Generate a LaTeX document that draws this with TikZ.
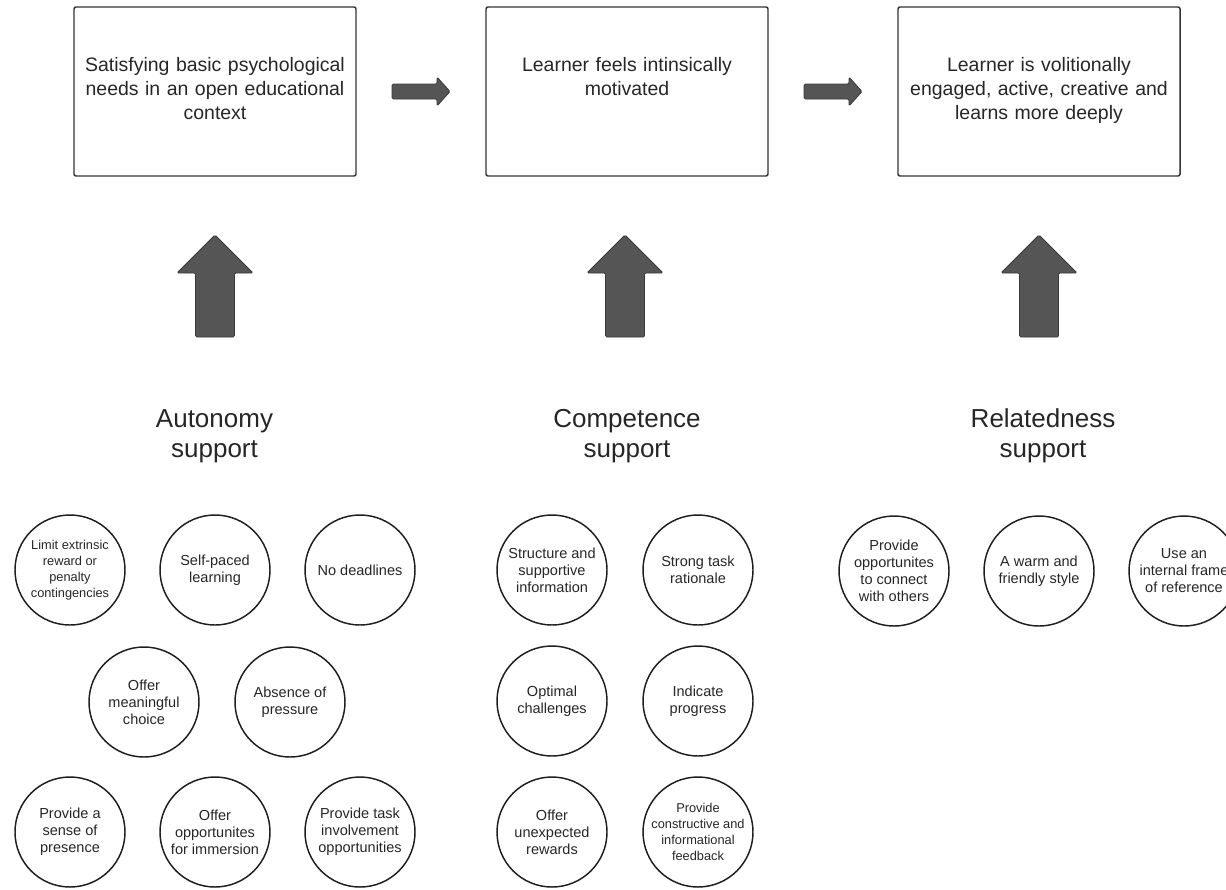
\documentclass[tikz,border=0pt]{standalone}
\usepackage{fontspec}
\setmainfont{Liberation Sans}
\definecolor{txtc}{HTML}{262626}
\definecolor{boxc}{HTML}{333333}
\definecolor{circc}{HTML}{1E1E1E}
\definecolor{arrowc}{HTML}{555555}
\definecolor{arrowdark}{HTML}{3A3A3A}
\begin{document}
\begin{tikzpicture}[x=0.75pt,y=-0.75pt,
  box/.style={draw=boxc, line width=1.1pt, rounded corners=1.5pt, minimum width=211.5pt, minimum height=126.75pt, inner sep=0pt},
  boxtxt/.style={align=center, text width=205pt, text=txtc, font=\fontsize{14.6}{18}\selectfont, anchor=north, inner sep=0pt},
  circ/.style={circle, draw=circc, line width=1.1pt, minimum size=82.5pt, inner sep=0pt, align=center, text=txtc, font=\fontsize{10.9}{12.75}\selectfont},
  smalltxt/.style={font=\fontsize{9.6}{12}\selectfont},
  headtxt/.style={align=center, text=txtc, font=\fontsize{19.5}{22.5}\selectfont, inner sep=0pt},
  blockarrow/.style={fill=arrowc, draw=arrowdark, line width=0.6pt, rounded corners=1pt},
  uparrowpic/.pic={\path[blockarrow] (-19.5,102) -- (-19.5,38) -- (-38,38) -- (0,0) -- (38,38) -- (19.5,38) -- (19.5,102) -- cycle;},
  rightarrowpic/.pic={\path[blockarrow] (0,-7.5) -- (45,-7.5) -- (45,-14.5) -- (58,0) -- (45,14.5) -- (45,7.5) -- (0,7.5) -- cycle;}
]
\useasboundingbox (0,0) rectangle (1226,889);
\clip (0,0) rectangle (1226,889);

% top boxes
\node[box] (b1) at (215,91.5) {};
\node[box] (b2) at (627,91.5) {};
\node[box] (b3) at (1039,91.5) {};
\node[boxtxt] (t1) at (215,57) {Satisfying basic psychological\\needs in an open educational\\context};
\node[boxtxt] (t2) at (627,57) {Learner feels intinsically\\motivated};
\node[boxtxt] (t3) at (1039,57) {Learner is volitionally\\engaged, active, creative and\\learns more deeply};

% right arrows
\pic at (392,91.5) {rightarrowpic};
\pic at (804,91.5) {rightarrowpic};

% up arrows
\pic at (215,235) {uparrowpic};
\pic at (625,235) {uparrowpic};
\pic at (1039,235) {uparrowpic};

% headings
\node[headtxt] (h1) at (214.5,436) {Autonomy\\support};
\node[headtxt] (h2) at (627,436) {Competence\\support};
\node[headtxt] (h3) at (1043,436) {Relatedness\\support};

% autonomy circles
\node[circ, smalltxt] (a1) at (70,570) {Limit extrinsic\\reward or\\penalty\\contingencies};
\node[circ] (a2) at (215,570) {Self-paced\\learning};
\node[circ] (a3) at (360,570) {No deadlines};
\node[circ] (a4) at (144,702) {Offer\\meaningful\\choice};
\node[circ] (a5) at (290,702) {Absence of\\pressure};
\node[circ] (a6) at (70,832) {Provide a\\sense of\\presence};
\node[circ] (a7) at (215,832) {Offer\\opportunites\\for immersion};
\node[circ] (a8) at (360,832) {Provide task\\involvement\\opportunities};

% competence circles
\node[circ] (c1) at (552,570) {Structure and\\supportive\\information};
\node[circ] (c2) at (698,570) {Strong task\\rationale};
\node[circ] (c3) at (552,701) {Optimal\\challenges};
\node[circ] (c4) at (698,701) {Indicate\\progress};
\node[circ] (c5) at (552,832) {Offer\\unexpected\\rewards};
\node[circ, smalltxt] (c6) at (698,832) {Provide\\constructive and\\informational\\feedback};

% relatedness circles
\node[circ] (r1) at (894,571) {Provide\\opportunites\\to connect\\with others};
\node[circ] (r2) at (1039,571) {A warm and\\friendly style};
\node[circ] (r3) at (1184,571) {Use an\\internal frame\\of reference};
\end{tikzpicture}
\end{document}
